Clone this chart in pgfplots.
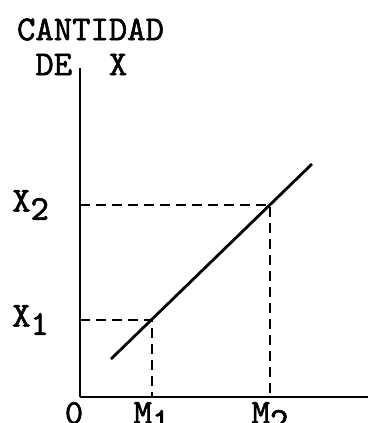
\documentclass[border=0pt]{standalone}
\usepackage{fontspec}
\newfontfamily\tw{lmmono10-regular.otf}[FakeBold=1.6]
\usepackage{pgfplots}
\pgfplotsset{compat=1.18}
\newcommand\sub[1]{\raisebox{-0.55ex}{#1}}

\begin{document}
\begin{tikzpicture}[font=\fontsize{17.5}{17.5}\tw]
\begin{axis}[
  x=0.5pt, y=0.5pt,
  xmin=0, xmax=288, ymin=0, ymax=329,
  axis x line=bottom, axis y line=left,
  axis line style={-, line width=1.4pt},
  clip=false,
  xtick={72,190}, xticklabels={M\sub{1}, M\sub{2}},
  ytick={77,192}, yticklabels={X\sub{1}, X\sub{2}},
  extra x ticks={0}, extra x tick labels={0},
  extra x tick style={xticklabel style={xshift=-3pt}},
  major tick length=0pt,
  xticklabel style={anchor=north, yshift=1pt},
  yticklabel style={anchor=east, xshift=-12pt},
  ylabel={CANTIDAD\\\phantom{C}DE\phantom{TI}X},
  ylabel style={rotate=-90, align=left, anchor=north west,
                at={(axis description cs:-0.22,1.152)}, inner sep=0pt},
]
\addplot[black, line width=1pt, dash pattern=on 5pt off 3pt] coordinates
  {(0,192) (190,192) (190,0)};
\addplot[black, line width=1pt, dash pattern=on 5pt off 3pt] coordinates
  {(0,77) (72,77) (72,0)};
\addplot[black, line width=1.4pt] coordinates {(31,38) (232,233)};
\coordinate (bl) at (axis cs:-80,-26);
\coordinate (tr) at (axis cs:288,397);
\end{axis}
\pgfresetboundingbox
\path[use as bounding box] (bl) rectangle (tr);
\end{tikzpicture}
\end{document}
